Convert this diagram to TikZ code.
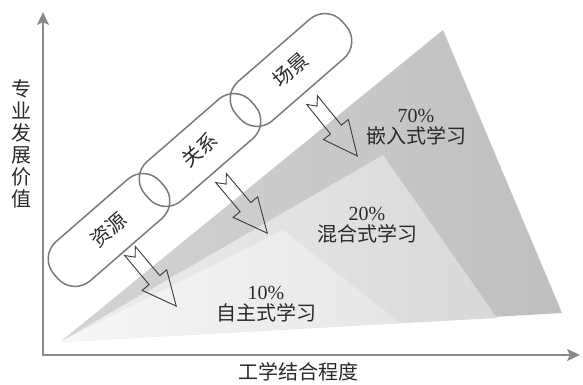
\documentclass[tikz,border=0pt]{standalone}
\usepackage{fontspec}
\setmainfont{Liberation Serif}
\newfontfamily\cjk{Noto Sans CJK SC}
\usetikzlibrary{calc,arrows.meta}
\definecolor{axisgray}{HTML}{8A8A8A}
\definecolor{pillgray}{HTML}{7A7A7A}
\definecolor{arrowc}{HTML}{3A3A3A}
\definecolor{textc}{HTML}{2A2A2A}
\definecolor{outerL}{HTML}{D4D4D4}
\definecolor{outerR}{HTML}{BFBFBF}
\definecolor{midL}{HTML}{EEEEEE}
\definecolor{midR}{HTML}{D8D8D8}
\definecolor{innerL}{HTML}{F7F7F7}
\definecolor{innerR}{HTML}{E6E6E6}
\tikzset{
  axisline/.style={draw=axisgray, line width=2.2pt, line cap=rect, -{Stealth[length=13pt,width=12pt,inset=3pt]}},
  pill/.style={draw=pillgray, line width=1.5pt, rounded corners=23pt, minimum width=141pt, minimum height=52pt, rotate=41, inner sep=0pt, font=\cjk\fontsize{20}{20}\selectfont, text=textc},
  arrowline/.style={draw=arrowc, line width=0.9pt, line join=miter},
  lbl/.style={align=center, font=\fontsize{20}{21}\selectfont, text=textc},
  notcharrow/.pic={\draw[arrowline] (0,7) -- (38,7) -- (38,16) -- (72,0) -- (38,-16) -- (38,-7) -- (0,-7) -- (8,0) -- cycle;}
}
\begin{document}
\begin{tikzpicture}[x=1pt,y=1pt]
\useasboundingbox (0,0) rectangle (583,385);
% fan regions
\coordinate (fan) at (60,43);
\coordinate (oTop) at (443,355);
\coordinate (oBot) at (562,72);
\coordinate (mTop) at (383,230);
\coordinate (mBot) at (497,67);
\coordinate (iTop) at (283,155);
\coordinate (iBot) at (400,62);
\shade[left color=outerL, right color=outerR] (fan) -- (oTop) -- (oBot) -- cycle;
\shade[left color=midL, right color=midR] (fan) -- (mTop) -- (mBot) -- cycle;
\shade[left color=innerL, right color=innerR] (fan) -- (iTop) -- (iBot) -- cycle;
% axes
\coordinate (o) at (43,30);
\coordinate (ytop) at (43,373);
\coordinate (xend) at (580,30);
\draw[axisline] (o) -- (ytop);
\draw[axisline] (o) -- (xend);
\node[lbl, font=\cjk\fontsize{20}{22}\selectfont] (ylab) at (21,241) {专\\业\\发\\展\\价\\值};
\node[lbl, font=\cjk\fontsize{20}{22}\selectfont] (xlab) at (298,13) {工学结合程度};
% region labels
\node[lbl] (l70) at (416,258) {70\%\\{\cjk 嵌入式学习}};
\node[lbl] (l20) at (367,160) {20\%\\{\cjk 混合式学习}};
\node[lbl] (l10) at (266,81) {10\%\\{\cjk 自主式学习}};
% pills
\node[pill] (ziyuan) at (109,155) {资源};
\node[pill] (guanxi) at (200,235) {关系};
\node[pill] (changjing) at (291,315) {场景};
% block arrows
\pic[rotate=-50] at ($(ziyuan.center)+(21,-21)$) {notcharrow};
\pic[rotate=-50] at ($(guanxi.center)+(21,-28)$) {notcharrow};
\pic[rotate=-51] at ($(changjing.center)+(21,-30)$) {notcharrow};
\end{tikzpicture}
\end{document}
